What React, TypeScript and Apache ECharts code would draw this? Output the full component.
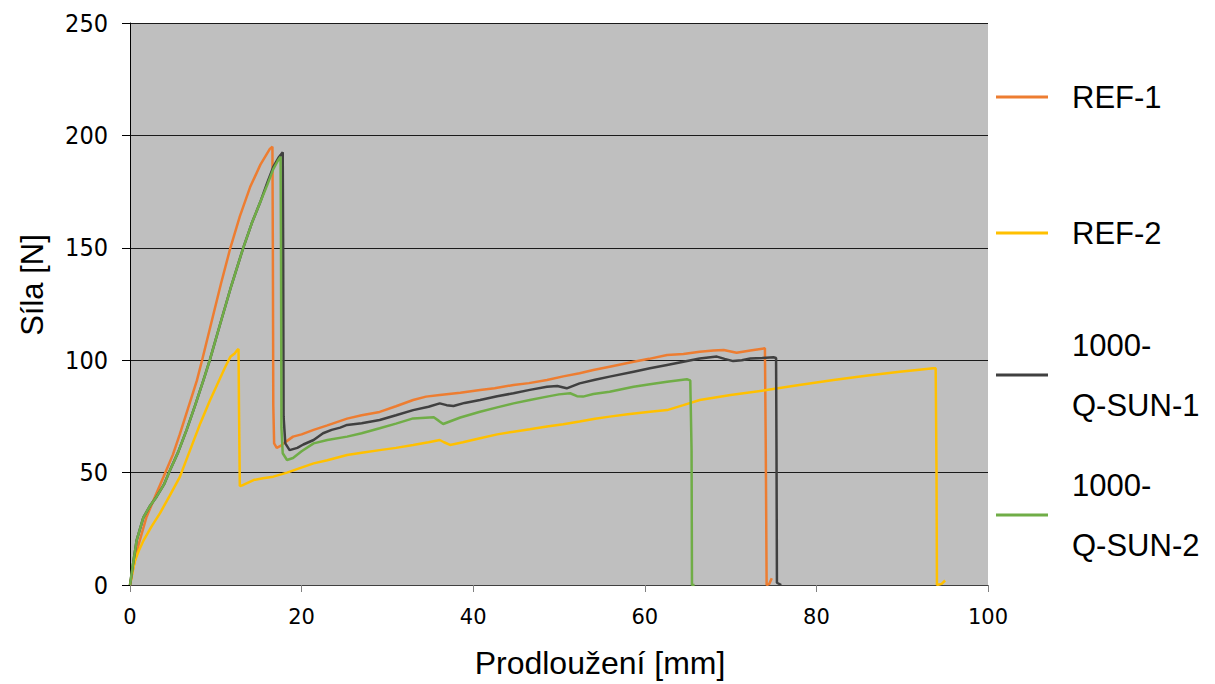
import React, { useEffect, useRef } from "react";
import * as echarts from "echarts";

// Tensile test records: elongation [mm] vs. force [N]
const ref1: [number, number][] = [
  [0, 0], [0.4, 8], [1.0, 18], [1.9, 30], [3.0, 40], [3.9, 48], [5.0, 58], [5.8, 67],
  [6.8, 79], [7.8, 91], [8.4, 100], [9.5, 117], [10.6, 134], [11.7, 150], [12.8, 164],
  [14.0, 177], [15.2, 187], [16.3, 194], [16.6, 195], [16.65, 150], [16.7, 80], [16.8, 63],
  [17.1, 61], [17.6, 62], [17.9, 63], [19.0, 66], [20.0, 67], [21.4, 69], [23.0, 71],
  [25.3, 74], [27.0, 75.5], [29.1, 77], [31.0, 79.5], [33.0, 82.3], [34.5, 83.8],
  [36.1, 84.5], [38.5, 85.5], [40.8, 86.7], [42.5, 87.5], [44.7, 89], [46.5, 89.8],
  [48.6, 91.2], [50.5, 92.8], [52.4, 94.2], [54.0, 95.6], [55.9, 97.1], [58.7, 99.3],
  [60.5, 100.6], [62.6, 102.3], [64.5, 102.8], [66.4, 103.8], [68.0, 104.3], [69.2, 104.5],
  [70.7, 103.3], [72.3, 104.3], [74.0, 105.3], [74.1, 60], [74.2, 0], [74.5, 0.5], [74.8, 3],
];

const ref2: [number, number][] = [
  [0, 0], [0.3, 6], [0.6, 11], [1.0, 15], [1.6, 20], [2.5, 26], [3.5, 32], [4.6, 39.5],
  [5.8, 48], [7.0, 60], [8.2, 72], [9.3, 82], [10.5, 92], [11.1, 97], [11.7, 101.5],
  [12.2, 103], [12.5, 104.5], [12.65, 105], [12.7, 80], [12.8, 44], [13.2, 44.5],
  [14.4, 46.7], [15.5, 47.5], [16.7, 48.2], [18.3, 50], [19.8, 52], [21.4, 54.1],
  [23.0, 55.5], [25.3, 57.8], [27.0, 58.8], [29.1, 60], [31.0, 61], [33.0, 62.3],
  [34.8, 63.5], [36.1, 64.5], [36.6, 63.5], [37.3, 62.3], [38.8, 63.5], [40.8, 65.3],
  [42.8, 67], [44.7, 68.2], [46.6, 69.3], [48.6, 70.5], [50.5, 71.5], [52.4, 72.7],
  [54.2, 74], [55.9, 74.9], [58.0, 76], [60.6, 77.1], [62.6, 77.8], [64.5, 80],
  [66.4, 82.3], [70.0, 84.5], [74.2, 86.7], [78.0, 89], [82.0, 91.2], [86.0, 93.2],
  [89.7, 94.9], [92.0, 95.8], [93.6, 96.4], [93.9, 96.4], [94.0, 50], [94.05, 0],
  [94.6, 0.5], [95.0, 2],
];

const qsun1: [number, number][] = [
  [0, 0], [0.3, 8], [0.78, 20], [1.55, 30], [2.3, 35], [3.1, 39.3], [4.0, 45], [4.66, 51],
  [5.6, 59], [6.6, 69], [7.6, 80], [8.55, 91], [9.3, 100], [10.5, 116], [11.8, 133],
  [13.2, 150], [14.2, 161], [15.15, 170], [16.0, 179], [16.7, 186], [17.3, 190],
  [17.8, 192.5], [17.85, 150], [17.9, 75], [18.1, 63], [18.6, 60], [19.5, 61],
  [20.2, 62.5], [21.4, 64.5], [22.5, 67.5], [23.5, 69], [24.5, 70], [25.3, 71.2],
  [27.0, 72], [29.1, 73.4], [31.0, 75.5], [33.0, 77.8], [34.8, 79.3], [36.1, 80.8],
  [36.9, 80], [37.7, 79.6], [39.0, 81], [40.8, 82.3], [42.8, 84], [44.7, 85.3],
  [46.6, 86.8], [48.6, 88.2], [49.8, 88.5], [50.9, 87.5], [52.4, 89.7], [54.2, 91.3],
  [55.9, 92.7], [58.7, 94.9], [60.6, 96.4], [62.6, 97.9], [64.5, 99.3], [66.4, 100.8],
  [68.4, 101.6], [69.3, 100.6], [70.3, 99.6], [71.3, 100], [72.3, 100.8], [73.7, 101],
  [75.0, 101.3], [75.3, 101], [75.35, 60], [75.4, 1], [75.9, 0],
];

const qsun2: [number, number][] = [
  [0, 0], [0.3, 8], [0.78, 20], [1.55, 30], [2.3, 35], [3.1, 39.3], [4.0, 45], [4.66, 51],
  [5.6, 59], [6.6, 69], [7.6, 80], [8.55, 91], [9.3, 100], [10.5, 116], [11.8, 133],
  [13.2, 150], [14.2, 161], [15.15, 170], [16.0, 178], [16.7, 185], [17.2, 188.5],
  [17.55, 190.5], [17.6, 150], [17.65, 70], [17.8, 58.6], [18.3, 55.6], [19.0, 56.5],
  [20.0, 59.5], [21.4, 63], [23.0, 64.5], [25.3, 66], [27.0, 67.5], [29.1, 69.7],
  [31.0, 71.8], [33.0, 74.1], [35.4, 74.6], [36.0, 73], [36.5, 71.6], [38.5, 74.5],
  [40.8, 77.1], [42.8, 79], [44.7, 80.8], [46.6, 82.3], [48.6, 83.8], [50.0, 84.8],
  [51.3, 85.3], [52.1, 84], [52.8, 83.8], [54.0, 85], [55.9, 86], [58.7, 88.2],
  [60.6, 89.3], [62.6, 90.4], [64.9, 91.5], [65.3, 91], [65.45, 60], [65.5, 0], [65.8, 0],
];

const seriesNames = ["REF-1", "REF-2", "1000-Q-SUN-1", "1000-Q-SUN-2"];
const seriesData = [ref1, ref2, qsun1, qsun2];
const seriesColors = ["#ED7D31", "#FFC000", "#404040", "#70AD47"];
// vertical centre of each legend entry
const legendCenters = [97, 233, 375, 515];

const xTitle = "Prodloužení [mm]";
const yTitle = "Síla [N]";

const titleFont = "'Liberation Sans', Arial, sans-serif";

export default function App() {
  const ref = useRef<HTMLDivElement>(null);

  useEffect(() => {
    if (!ref.current) return;
    const chart = echarts.init(ref.current, null, { renderer: "svg" });

    const legends = seriesNames.map((name, i) => {
      const lines = name.startsWith("1000-") ? 2 : 1;
      const h = lines * 60;
      return {
        data: [name],
        orient: "vertical",
        left: 991,
        top: legendCenters[i] - h / 2 - 5,
        icon: "rect",
        itemWidth: 52,
        itemHeight: 3,
        selectedMode: false,
        formatter: (n: string) => (n.startsWith("1000-") ? "1000-\n" + n.slice(5) : n),
        textStyle: {
          fontFamily: titleFont,
          fontSize: 31,
          color: "#000",
          lineHeight: 60,
          padding: [0, 0, 0, 19],
        },
      };
    });

    chart.setOption({
      animation: false,
      backgroundColor: "#ffffff",
      grid: {
        left: 130,
        right: 227,
        top: 23,
        bottom: 99,
        show: true,
        backgroundColor: "#BFBFBF",
        borderWidth: 0,
      },
      legend: legends,
      xAxis: {
        type: "value",
        min: 0,
        max: 100,
        interval: 20,
        name: xTitle,
        nameLocation: "middle",
        nameGap: 62,
        nameTextStyle: {
          fontFamily: titleFont,
          fontSize: 32,
          color: "#000",
          padding: [0, 0, 0, 82],
        },
        axisLine: { show: true, onZero: false, lineStyle: { color: "#404040", width: 1 } },
        axisTick: { show: true, inside: false, length: 7, lineStyle: { color: "#808080" } },
        axisLabel: {
          fontFamily: "'DejaVu Sans', sans-serif",
          fontSize: 21,
          color: "#000",
          margin: 21,
        },
        splitLine: { show: false },
      },
      yAxis: {
        type: "value",
        min: 0,
        max: 250,
        interval: 50,
        name: yTitle,
        nameLocation: "middle",
        nameGap: 82,
        nameTextStyle: {
          fontFamily: titleFont,
          fontSize: 31,
          color: "#000",
          padding: [0, 0, 0, 38],
        },
        axisLine: { show: true, lineStyle: { color: "#000", width: 1 } },
        axisTick: { show: true, inside: false, length: 8, lineStyle: { color: "#000" } },
        axisLabel: {
          fontFamily: "'DejaVu Sans Condensed', 'DejaVu Sans', sans-serif",
          fontSize: 25,
          color: "#000",
          margin: 22,
        },
        splitLine: { show: true, lineStyle: { color: "#1a1a1a", width: 1 } },
      },
      series: seriesNames.map((name, i) => ({
        name,
        type: "line",
        data: seriesData[i],
        showSymbol: false,
        symbol: "none",
        color: seriesColors[i],
        lineStyle: { color: seriesColors[i], width: 2.5 },
        z: 2 + i,
      })),
    });

    return () => chart.dispose();
  }, []);

  return (
    <div
      ref={ref}
      style={{ position: "absolute", left: 0, top: 0, width: 1215, height: 684 }}
    />
  );
}
